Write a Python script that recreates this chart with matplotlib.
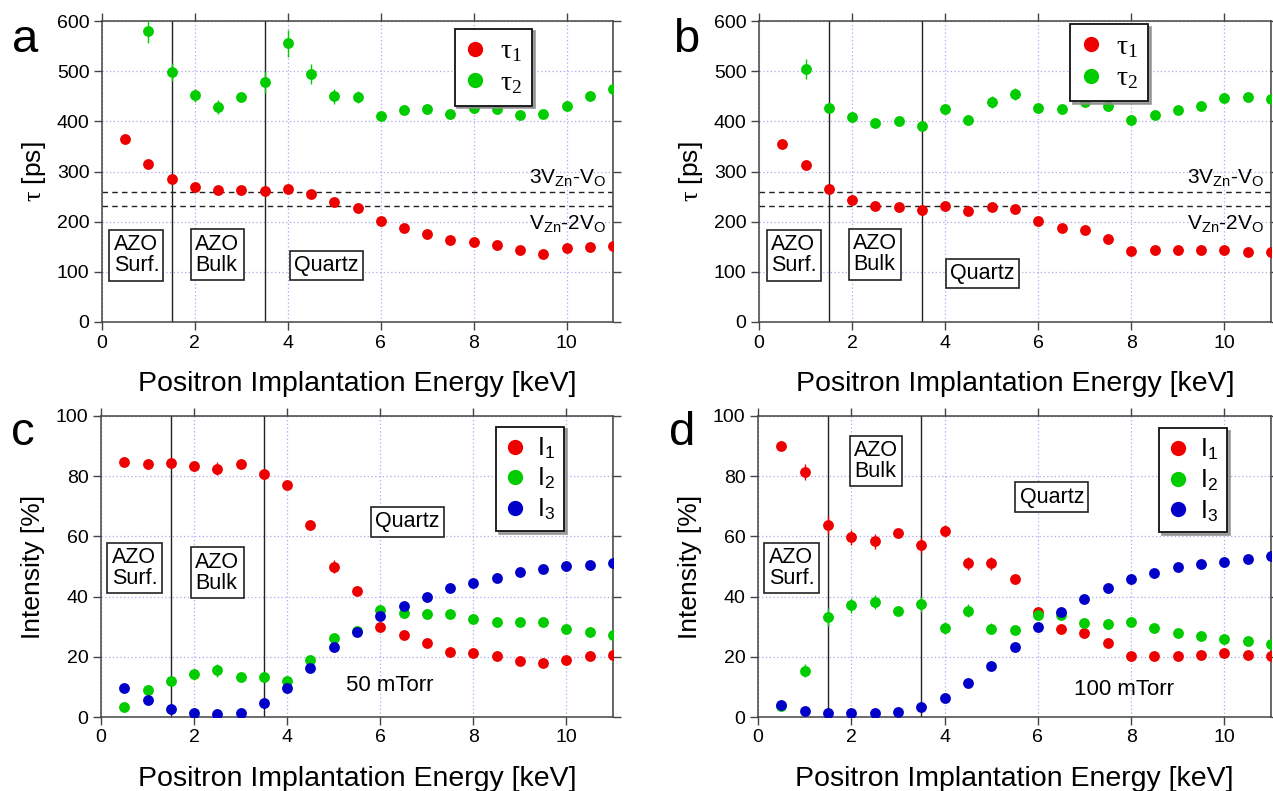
import numpy as np
import matplotlib
matplotlib.use("Agg")
import matplotlib.pyplot as plt
from matplotlib.lines import Line2D

plt.rcParams['font.family'] = ['Liberation Sans', 'DejaVu Sans']
plt.rcParams['mathtext.fontset'] = 'custom'
plt.rcParams['mathtext.rm'] = 'Liberation Serif'
plt.rcParams['mathtext.it'] = 'Liberation Serif:italic'
plt.rcParams['mathtext.sf'] = 'Liberation Sans'

# ---- data ----
energy = np.arange(0.5, 11.01, 0.5)
energy_t2 = energy[1:]

# panel a (50 mTorr lifetimes)
tau1_a = [364, 314, 286, 270, 264, 263, 262, 266, 256, 240, 228, 201,
          187, 176, 163, 159, 154, 144, 136, 148, 150, 151]
tau1_a_err = [3] * 22
tau2_a = [581, 499, 452, 428, 448, 479, 556, 494, 450, 449, 411, 423,
          425, 415, 426, 424, 413, 415, 430, 450, 464]
tau2_a_err = [25, 18, 13, 14, 5, 22, 27, 20, 15, 12, 6, 4,
              4, 4, 4, 4, 4, 4, 4, 4, 4]

# panel b (100 mTorr lifetimes)
tau1_b = [355, 312, 265, 244, 232, 229, 223, 232, 222, 229, 225, 202,
          187, 183, 166, 142, 143, 143, 143, 144, 140, 140]
tau1_b_err = [3] * 22
tau2_b = [505, 427, 408, 397, 400, 390, 424, 403, 439, 455, 426, 424,
          439, 431, 402, 412, 422, 430, 446, 448, 445]
tau2_b_err = [20, 5, 4, 4, 4, 4, 8, 9, 12, 12, 5, 4,
              5, 4, 4, 4, 4, 4, 4, 4, 4]

# panel c (50 mTorr intensities)
I1_c = [84.8, 84.1, 84.4, 83.3, 82.5, 84.0, 80.7, 77.2, 63.7, 49.9, 41.9, 29.8,
        27.1, 24.5, 21.5, 21.4, 20.3, 18.6, 18.1, 19.1, 20.1, 20.5]
I1_c_err = [0.8, 0.8, 0.8, 1.6, 2.2, 0.8, 1.8, 0.8, 1.3, 2.2, 1.5, 0.8,
            0.6, 0.6, 0.6, 0.6, 0.6, 0.6, 0.6, 0.6, 0.6, 0.6]
I2_c = [3.4, 9.0, 11.9, 14.2, 15.5, 13.3, 13.4, 12.1, 18.8, 26.2, 28.6, 35.4,
        34.7, 34.3, 34.3, 32.6, 31.7, 31.7, 31.4, 29.4, 28.4, 27.2]
I2_c_err = [0.6, 0.6, 1.2, 1.8, 2.2, 0.6, 1.5, 0.6, 1.0, 1.5, 1.0, 1.2,
            0.6, 0.6, 0.6, 0.6, 0.6, 0.6, 0.6, 0.6, 0.6, 0.6]
I3_c = [9.8, 5.8, 2.5, 1.3, 0.9, 1.4, 4.5, 9.6, 16.4, 23.1, 28.4, 33.7,
        36.9, 39.9, 42.7, 44.6, 46.3, 48.2, 49.2, 50.3, 50.6, 51.1]
I3_c_err = [0.5] * 22

# panel d (100 mTorr intensities)
I1_d = [89.9, 81.4, 63.9, 59.7, 58.4, 61.1, 57.0, 61.8, 51.0, 51.0, 45.7, 34.8,
        29.1, 27.8, 24.6, 20.2, 20.2, 20.4, 20.6, 21.1, 20.6, 20.2]
I1_d_err = [0.6, 2.5, 3.0, 2.5, 2.5, 0.6, 2.5, 2.0, 2.2, 2.0, 1.6, 1.5,
            0.6, 0.6, 0.6, 0.6, 0.6, 0.6, 0.6, 0.6, 0.6, 0.6]
I2_d = [3.8, 15.4, 33.2, 37.2, 38.2, 35.3, 37.4, 29.5, 35.3, 29.3, 28.9, 33.8,
        33.8, 31.2, 30.9, 31.7, 29.6, 28.0, 26.9, 25.8, 25.3, 24.4]
I2_d_err = [0.6, 2.2, 3.0, 2.5, 2.2, 0.6, 2.5, 2.0, 2.2, 1.8, 1.2, 1.2,
            0.6, 0.6, 0.6, 0.6, 0.6, 0.6, 0.6, 0.6, 0.6, 0.6]
I3_d = [4.1, 2.0, 1.4, 1.3, 1.4, 1.7, 3.3, 6.2, 11.4, 17.0, 23.2, 29.8,
        34.9, 39.3, 42.7, 46.0, 48.0, 49.7, 50.8, 51.5, 52.5, 53.6]
I3_d_err = [0.5] * 22

RED = '#ee0000'
GREEN = '#00cc00'
BLUE = '#0000c8'

fig = plt.figure(figsize=(12.73, 7.91), dpi=100)
W, H = 1273.0, 791.0


def make_axes(left, top, right, bottom):
    return fig.add_axes([left / W, (H - bottom) / H, (right - left) / W, (bottom - top) / H])


ax_a = make_axes(102, 21, 613, 322)
ax_b = make_axes(759, 21, 1271, 322)
ax_c = make_axes(101, 416, 613, 717)
ax_d = make_axes(758, 416, 1271, 717)


def style_axes(ax, ymax, ystep):
    ax.set_xlim(0, 11)
    ax.set_ylim(0, ymax)
    ax.set_xticks(np.arange(0, 11, 2))
    ax.set_yticks(np.arange(0, ymax + 1, ystep))
    ax.tick_params(direction='out', length=6, width=1, color='#444444',
                   labelsize=14, pad=3, top=True, right=True)
    for s in ax.spines.values():
        s.set_color('#444444')
        s.set_linewidth(1.1)
    ax.grid(True, ls=(0, (1, 2)), color='#aaaaee', lw=0.9)
    ax.set_axisbelow(True)
    for xv in (1.5, 3.5, 11):
        ax.axvline(xv, color='#222222', lw=1.0, zorder=1)
    ax.set_xlabel('Positron Implantation Energy [keV]', fontsize=20.5, labelpad=14)


def plot_series(ax, x, y, err, color):
    ax.errorbar(x, y, yerr=err, fmt='o', color=color, ms=7.8, mew=0,
                elinewidth=1.0, capsize=3, capthick=1.0, zorder=3)


def box(ax, x, y, txt, size=15.5):
    ax.text(x, y, txt, fontsize=size, ha='center', va='center', multialignment='left',
            linespacing=1.0, zorder=5,
            bbox=dict(boxstyle='square,pad=0.2', fc='white', ec='#222222', lw=1.2))


def legend(ax, labels, colors, anchor, fontsize):
    handles = [Line2D([], [], ls='none', marker='o', ms=11, mew=0, color=c) for c in colors]
    leg = ax.legend(handles, labels, loc='upper left', bbox_to_anchor=anchor,
                    fontsize=fontsize, frameon=True, fancybox=False, framealpha=1,
                    edgecolor='#111111', shadow={'color': '0.55', 'alpha': 0.8},
                    handlelength=0.8, handletextpad=0.5, labelspacing=0.2,
                    borderpad=0.35, borderaxespad=0)
    leg.get_frame().set_linewidth(1.3)
    leg.set_zorder(6)


def defect_labels(ax):
    ax.text(10.85, 289, r'3V$_\mathsf{Zn}$-V$_\mathsf{O}$', fontsize=15, ha='right', va='center')
    ax.text(10.85, 197, r'V$_\mathsf{Zn}$-2V$_\mathsf{O}$', fontsize=15, ha='right', va='center')
    for yv in (260, 231):
        ax.axhline(yv, color='#222222', ls=(0, (4, 3)), lw=1.0, zorder=2)


# ---- panel a ----
style_axes(ax_a, 600, 100)
defect_labels(ax_a)
plot_series(ax_a, energy, tau1_a, tau1_a_err, RED)
plot_series(ax_a, energy_t2, tau2_a, tau2_a_err, GREEN)
ax_a.set_ylabel(r'$\mathrm{\tau}$ [ps]', fontsize=19, labelpad=6)
box(ax_a, 0.74, 133, 'AZO\nSurf.')
box(ax_a, 2.48, 134, 'AZO\nBulk')
box(ax_a, 4.83, 113, 'Quartz')
legend(ax_a, [r'$\mathrm{\tau_1}$', r'$\mathrm{\tau_2}$'], [RED, GREEN], (0.69, 0.975), 20)

# ---- panel b ----
style_axes(ax_b, 600, 100)
defect_labels(ax_b)
plot_series(ax_b, energy, tau1_b, tau1_b_err, RED)
plot_series(ax_b, energy_t2, tau2_b, tau2_b_err, GREEN)
ax_b.set_ylabel(r'$\mathrm{\tau}$ [ps]', fontsize=19, labelpad=6)
box(ax_b, 0.75, 133, 'AZO\nSurf.')
box(ax_b, 2.49, 135, 'AZO\nBulk')
box(ax_b, 4.8, 97, 'Quartz')
legend(ax_b, [r'$\mathrm{\tau_1}$', r'$\mathrm{\tau_2}$'], [RED, GREEN], (0.608, 0.99), 20)

# ---- panel c ----
style_axes(ax_c, 100, 20)
plot_series(ax_c, energy, I1_c, I1_c_err, RED)
plot_series(ax_c, energy, I2_c, I2_c_err, GREEN)
plot_series(ax_c, energy, I3_c, I3_c_err, BLUE)
ax_c.set_ylabel('Intensity [%]', fontsize=19, labelpad=8)
box(ax_c, 0.72, 49.5, 'AZO\nSurf.')
box(ax_c, 2.5, 48, 'AZO\nBulk')
box(ax_c, 6.58, 64.8, 'Quartz')
ax_c.text(6.2, 10.6, '50 mTorr', fontsize=16, ha='center', va='center')
legend(ax_c, [r'I$_\mathsf{1}$', r'I$_\mathsf{2}$', r'I$_\mathsf{3}$'],
       [RED, GREEN, BLUE], (0.771, 0.965), 18)

# ---- panel d ----
style_axes(ax_d, 100, 20)
plot_series(ax_d, energy, I1_d, I1_d_err, RED)
plot_series(ax_d, energy, I2_d, I2_d_err, GREEN)
plot_series(ax_d, energy, I3_d, I3_d_err, BLUE)
ax_d.set_ylabel('Intensity [%]', fontsize=19, labelpad=8)
box(ax_d, 0.72, 49.5, 'AZO\nSurf.')
box(ax_d, 2.53, 85, 'AZO\nBulk')
box(ax_d, 6.3, 73, 'Quartz')
ax_d.text(7.84, 9.0, '100 mTorr', fontsize=16, ha='center', va='center')
legend(ax_d, [r'I$_\mathsf{1}$', r'I$_\mathsf{2}$', r'I$_\mathsf{3}$'],
       [RED, GREEN, BLUE], (0.782, 0.96), 18)

# panel letters
for letter, x, y in [('a', 25, 40), ('b', 686, 40), ('c', 23, 433), ('d', 682, 433)]:
    fig.text(x / W, 1 - y / H, letter, fontsize=34, ha='center', va='center')

fig.savefig('out.png', dpi=100)
